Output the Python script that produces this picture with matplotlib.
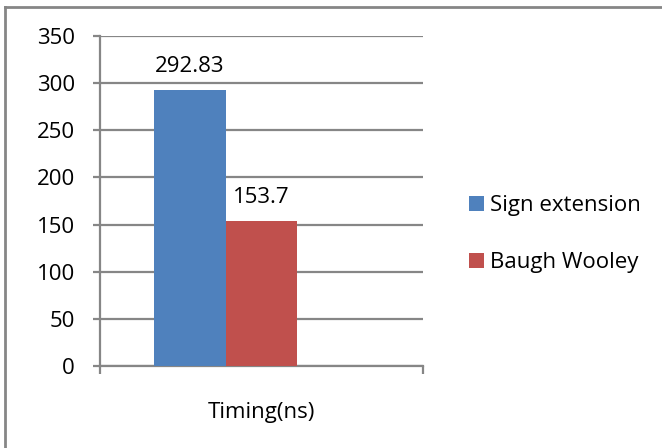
import matplotlib
matplotlib.use("Agg")
import matplotlib.pyplot as plt
from matplotlib.lines import Line2D
from matplotlib.patches import Patch

categories = ["Timing(ns)"]
series_names = ["Sign extension", "Baugh Wooley"]
values = [292.83, 153.7]
value_labels = ["292.83", "153.7"]
colors = ["#4F81BD", "#C0504D"]
yticks = [0, 50, 100, 150, 200, 250, 300, 350]

plt.rcParams['font.family'] = ['Open Sans', 'DejaVu Sans']
FS = 16
GRAY = "#868686"

W, H = 662, 448
fig = plt.figure(figsize=(W / 100, H / 100), dpi=100)
ax = fig.add_axes([100 / W, (H - 366) / H, 323 / W, 330 / H])

# Excel-style clustered layout: 3 slots (one empty), gap width 150%
w = 1 / 4.5
start = 0.75 * w
for i, (v, c, lab) in enumerate(zip(values, colors, value_labels)):
    xc = start + w * (i + 0.5)
    ax.bar(xc, v, width=w, color=c, zorder=3, label=series_names[i])
    ax.text(xc, v + 18 * 350 / 330, lab, ha='center', va='baseline', fontsize=FS, color='black')

ax.set_xlim(0, 1)
ax.set_ylim(0, 350)
ax.set_yticks(yticks)
ax.set_yticklabels([str(t) for t in yticks])
ax.yaxis.grid(True, color=GRAY, linewidth=1.6, zorder=0)
ax.set_axisbelow(True)

ax.set_xticks([0.5])
ax.set_xticklabels(categories)
ax.set_xticks([0, 1], minor=True)
ax.tick_params(axis='x', which='major', length=0, pad=26, labelsize=FS)
ax.tick_params(axis='x', which='minor', length=6, width=1.6, color=GRAY, direction='out')
ax.tick_params(axis='y', length=5, width=1.6, color=GRAY, pad=13, labelsize=FS)

for s in ['top', 'right']:
    ax.spines[s].set_visible(False)
for s in ['left', 'bottom']:
    ax.spines[s].set_color(GRAY)
    ax.spines[s].set_linewidth(1.6)

handles = [Patch(facecolor=c, edgecolor='none') for c in colors]
fig.legend(handles, series_names, loc='center left',
           bbox_to_anchor=(458 / W, 1 - 234 / H), frameon=False,
           fontsize=FS, handlelength=0.65, handleheight=0.65,
           handletextpad=0.3, labelspacing=1.62, borderpad=0)

# outer chart border (only left and top visible in reference)
fig.add_artist(Line2D([5 / W, 5 / W], [0, 1 - 7 / H], color=GRAY, linewidth=2))
fig.add_artist(Line2D([5 / W, 1], [1 - 7 / H, 1 - 7 / H], color=GRAY, linewidth=2))

fig.savefig("out.png", dpi=100)
